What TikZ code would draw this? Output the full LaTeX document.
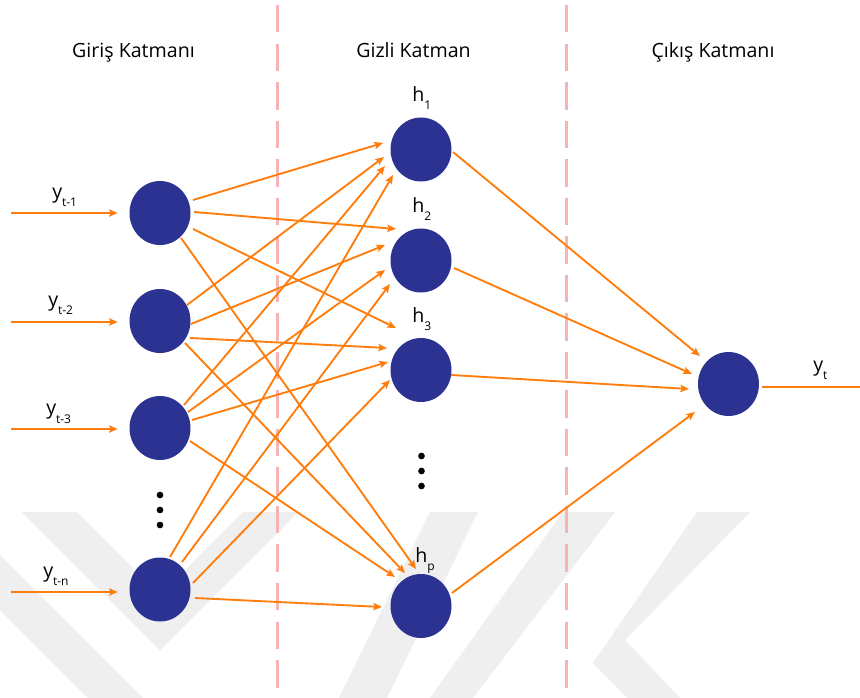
\documentclass[tikz,border=0pt]{standalone}
\usepackage{fontspec}
\setmainfont{Open Sans}
\usetikzlibrary{arrows.meta,shapes.geometric}
\definecolor{nodeblue}{RGB}{44,50,146}
\definecolor{arrorange}{RGB}{255,125,12}
\definecolor{divpink}{RGB}{246,180,182}
\definecolor{wmgray}{RGB}{239,239,239}
\newcommand{\sublbl}[2]{#1\raisebox{-6pt}{\fontsize{9}{10}\selectfont #2}}
\tikzset{
  neuron/.style={ellipse, fill=nodeblue, draw=none, minimum width=45.75pt, minimum height=48pt, inner sep=0pt},
  conn/.style={draw=arrorange, line width=1.4pt, -{Stealth[length=6.5pt,width=5.5pt,inset=1.2pt]}},
  outline/.style={draw=arrorange, line width=1.4pt},
  divider/.style={draw=divpink, line width=2.25pt, dash pattern=on 20.6pt off 8.3pt},
  header/.style={anchor=base, font=\fontsize{14.7}{17}\selectfont, inner sep=0pt},
  lbl/.style={anchor=base west, font=\fontsize{14.7}{17}\selectfont, inner sep=0pt},
  vdot/.style={fill=black},
  wm/.style={fill=wmgray, draw=none}
}
\begin{document}
\begin{tikzpicture}[x=0.75pt,y=-0.75pt]
\useasboundingbox (0,0) rectangle (860,698);
\fill[white] (0,0) rectangle (860,698);

% faint background watermark
\fill[wm] (22,512) -- (77,512) -- (160,595) -- (243,512) -- (298,512) -- (160,650) -- cycle;
\fill[wm] (0,555) -- (143,698) -- (88,698) -- (0,610) -- cycle;
\fill[wm] (430,512) -- (478,512) -- (387,698) -- (339,698) -- cycle;
\fill[wm] (563,512) -- (615,512) -- (473,698) -- (430,698) -- cycle;
\fill[wm] (697,512) -- (750,512) -- (625,640) -- (680,698) -- (627,698) -- (593,663) -- cycle;

% dividers
\draw[divider] (277,5) -- (277,698);
\draw[divider] (566,5) -- (566,698);

% headers
\node[header] (t1) at (133.5,58) {Giriş Katmanı};
\node[header] (t2) at (413.5,58) {Gizli Katman};
\node[header] (t3) at (713,58) {Çıkış Katmanı};

% neurons
\node[neuron] (i1) at (160,213) {};
\node[neuron] (i2) at (160,321) {};
\node[neuron] (i3) at (160,428) {};
\node[neuron] (i4) at (160,589.5) {};
\node[neuron] (h1) at (421,149.5) {};
\node[neuron] (h2) at (421,260.5) {};
\node[neuron] (h3) at (421,370) {};
\node[neuron] (h4) at (421,606) {};
\node[neuron] (o) at (728.5,384) {};

% labels
\node[lbl] (ly1) at (52,199) {\sublbl{y}{t-1}};
\node[lbl] (ly2) at (48,307) {\sublbl{y}{t-2}};
\node[lbl] (ly3) at (46,415) {\sublbl{y}{t-3}};
\node[lbl] (ly4) at (43,577.5) {\sublbl{y}{t-n}};
\node[lbl] (lh1) at (412,102) {\sublbl{h}{1}};
\node[lbl] (lh2) at (412,213) {\sublbl{h}{2}};
\node[lbl] (lh3) at (412,323) {\sublbl{h}{3}};
\node[lbl] (lh4) at (415,562) {\sublbl{h}{p}};
\node[lbl] (lyt) at (813,372) {\sublbl{y}{t}};

% dots
\fill[vdot] (160,495) circle (2.5pt);
\fill[vdot] (160,510) circle (2.5pt);
\fill[vdot] (160,525) circle (2.5pt);
\fill[vdot] (421.5,456) circle (2.5pt);
\fill[vdot] (421.5,471) circle (2.5pt);
\fill[vdot] (421.5,486) circle (2.5pt);

% input arrows
\coordinate (s1) at (11,213);
\coordinate (s2) at (11,322);
\coordinate (s3) at (11,429);
\coordinate (s4) at (11,592);
\draw[conn, shorten >=8.6pt] (s1) -- (i1.west |- s1);
\draw[conn, shorten >=8.6pt] (s2) -- (i2.west |- s2);
\draw[conn, shorten >=8.6pt] (s3) -- (i3.west |- s3);
\draw[conn, shorten >=8.6pt] (s4) -- (i4.west |- s4);

% input -> hidden
\draw[conn] ([shift={(33,-13)}]i1.center) -- ([shift={(-38,-6.5)}]h1.center);
\draw[conn] ([shift={(34,-1)}]i1.center) -- ([shift={(-25,-31.5)}]h2.center);
\draw[conn] ([shift={(33,16)}]i1.center) -- ([shift={(-25,-42)}]h3.center);
\draw[conn] ([shift={(21,25)}]i1.center) -- ([shift={(-5,-37)}]h4.center);

\draw[conn] ([shift={(27,-16)}]i2.center) -- ([shift={(-37,7.5)}]h1.center);
\draw[conn] ([shift={(31,3)}]i2.center) -- ([shift={(-36,-15.5)}]h2.center);
\draw[conn] ([shift={(30,17)}]i2.center) -- ([shift={(-34,-22)}]h3.center);
\draw[conn] ([shift={(25,22)}]i2.center) -- ([shift={(-16,-33)}]h4.center);

\draw[conn] ([shift={(24,-23)}]i3.center) -- ([shift={(-36,16.5)}]h1.center);
\draw[conn] ([shift={(28,-16)}]i3.center) -- ([shift={(-36,9.5)}]h2.center);
\draw[conn] ([shift={(32,-8)}]i3.center) -- ([shift={(-33,-8)}]h3.center);
\draw[conn] ([shift={(30,13)}]i3.center) -- ([shift={(-26,-29)}]h4.center);

\draw[conn] ([shift={(10,-32.5)}]i4.center) -- ([shift={(-28,25.5)}]h1.center);
\draw[conn] ([shift={(22,-27.5)}]i4.center) -- ([shift={(-31,23.5)}]h2.center);
\draw[conn] ([shift={(33,-6.5)}]i4.center) -- ([shift={(-31,10)}]h3.center);
\draw[conn] ([shift={(35,8.5)}]i4.center) -- ([shift={(-39,1)}]h4.center);

% hidden -> output
\draw[conn] ([shift={(32,2.5)}]h1.center) -- ([shift={(-28.5,-28)}]o.center);
\draw[conn] ([shift={(33,7.5)}]h2.center) -- ([shift={(-36.5,-10)}]o.center);
\draw[conn] ([shift={(30,5)}]h3.center) -- ([shift={(-39.5,5)}]o.center);
\draw[conn] ([shift={(31,-13)}]h4.center) -- ([shift={(-33.5,28)}]o.center);

% output line
\coordinate (oe) at (860,387);
\draw[outline, shorten <=2.25pt] (o.east |- oe) -- (oe);
\end{tikzpicture}
\end{document}
